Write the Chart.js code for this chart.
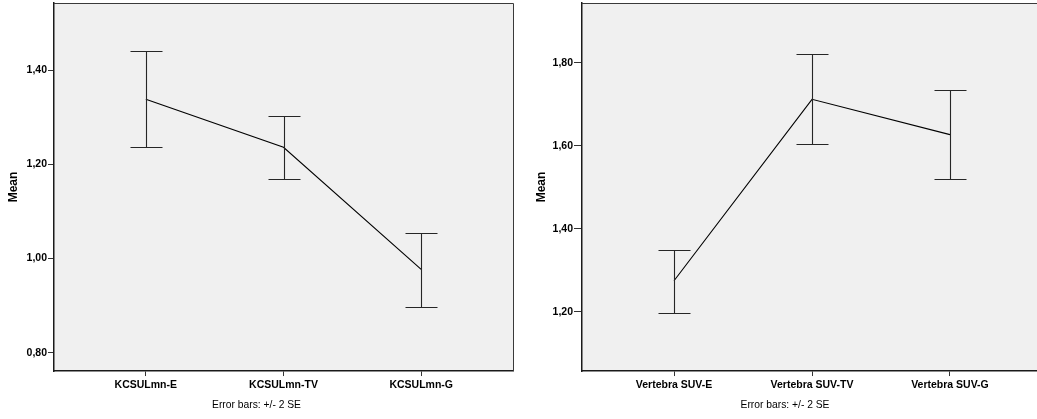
<!DOCTYPE html>
<html>
<head>
<meta charset="utf-8">
<script src="https://cdn.jsdelivr.net/npm/chart.js@4/dist/chart.umd.min.js"></script>
<style>
  html, body { margin: 0; padding: 0; background: #fff; overflow: hidden; }
  #wrap { position: relative; width: 1037px; height: 419px; overflow: hidden; }
  canvas { position: absolute; top: 0; }
  #left { left: 0; }
  #right { left: 520px; }
</style>
</head>
<body>
<div id="wrap">
  <canvas id="left" width="520" height="419"></canvas>
  <canvas id="right" width="530" height="419"></canvas>
</div>
<script>
// KCSULmn: group means with +/- 2 SE limits
const kcsCategories = ['KCSULmn-E', 'KCSULmn-TV', 'KCSULmn-G'];
const kcsMeans = [1.338, 1.236, 0.977];
const kcsLower = [1.236, 1.169, 0.898];
const kcsUpper = [1.441, 1.302, 1.054];
const kcsTicks = [0.80, 1.00, 1.20, 1.40];

// Vertebra SUV: group means with +/- 2 SE limits
const vertCategories = ['Vertebra SUV-E', 'Vertebra SUV-TV', 'Vertebra SUV-G'];
const vertMeans = [1.275, 1.712, 1.627];
const vertLower = [1.197, 1.604, 1.519];
const vertUpper = [1.350, 1.821, 1.735];
const vertTicks = [1.20, 1.40, 1.60, 1.80];

const footnote = 'Error bars: +/- 2 SE';

Chart.defaults.font.family = "'Liberation Sans', Arial, Helvetica, sans-serif";
Chart.defaults.color = '#000';

// Plot background, frame and error bars (positions come from the chart's scales)
const spssFrame = {
  id: 'spssFrame',
  beforeDraw(chart) {
    const a = chart.chartArea, ctx = chart.ctx;
    ctx.save();
    ctx.fillStyle = '#f0f0f0';
    ctx.fillRect(a.left, a.top, a.right - a.left, a.bottom - a.top);
    ctx.restore();
  },
  afterDatasetsDraw(chart) {
    const ctx = chart.ctx;
    const xs = chart.scales.x, ys = chart.scales.y;
    const ds = chart.data.datasets[0];
    const lo = ds.lower, hi = ds.upper;
    ctx.save();
    ctx.strokeStyle = '#262626';
    ctx.lineWidth = 1.1;
    for (let i = 0; i < lo.length; i++) {
      const x = Math.round(xs.getPixelForValue(i)) + 0.5;
      const yl = Math.round(ys.getPixelForValue(lo[i])) + 0.5;
      const yh = Math.round(ys.getPixelForValue(hi[i])) + 0.5;
      ctx.beginPath();
      ctx.moveTo(x, yh); ctx.lineTo(x, yl);
      ctx.moveTo(x - 16, yh); ctx.lineTo(x + 16, yh);
      ctx.moveTo(x - 16, yl); ctx.lineTo(x + 16, yl);
      ctx.stroke();
    }
    ctx.restore();
  },
  afterDraw(chart) {
    const a = chart.chartArea, ctx = chart.ctx;
    ctx.save();
    ctx.strokeStyle = '#3a3a3a';
    ctx.lineWidth = 1;
    ctx.beginPath();
    ctx.moveTo(Math.round(a.left), Math.round(a.top) + 0.5);
    ctx.lineTo(Math.round(a.right) + 0.5, Math.round(a.top) + 0.5);
    ctx.lineTo(Math.round(a.right) + 0.5, Math.round(a.bottom));
    ctx.stroke();
    ctx.restore();
  }
};

function fmt(v) { return v.toFixed(2).replace('.', ','); }

function makeChart(id, cfg) {
  const pts = cfg.means.map((m, i) => ({ x: i, y: m }));
  return new Chart(document.getElementById(id), {
    type: 'line',
    data: {
      datasets: [{
        data: pts,
        lower: cfg.lower,
        upper: cfg.upper,
        borderColor: '#000',
        borderWidth: 1.1,
        pointRadius: 0,
        tension: 0,
        fill: false
      }]
    },
    options: {
      responsive: false,
      animation: false,
      devicePixelRatio: 1,
      layout: { padding: cfg.padding },
      plugins: {
        legend: { display: false },
        tooltip: { enabled: false },
        title: {
          display: true,
          position: 'bottom',
          text: footnote,
          color: '#000',
          font: { size: 10.3, weight: 'normal' },
          padding: { top: 0, bottom: 8 }
        }
      },
      scales: {
        x: {
          type: 'linear',
          min: -0.667,
          max: 2.667,
          grid: { display: true, drawOnChartArea: false, drawTicks: true, tickLength: 5, color: '#333' },
          border: { display: true, color: '#1a1a1a', width: 1.5 },
          afterBuildTicks(s) { s.ticks = cfg.categories.map((c, i) => ({ value: i })); },
          afterFit(s) { s.height = 27.6; s.paddingLeft = 0; s.paddingRight = 0; },
          ticks: {
            padding: 3,
            maxRotation: 0,
            autoSkip: false,
            font: { size: 10.5, weight: 'bold' },
            color: '#000',
            callback: (v) => cfg.categories[v]
          }
        },
        y: {
          type: 'linear',
          min: cfg.yMin,
          max: cfg.yMax,
          grid: { display: true, drawOnChartArea: false, drawTicks: true, tickLength: cfg.tickLen, color: '#333' },
          border: { display: true, color: '#1a1a1a', width: 1.5 },
          afterBuildTicks(s) { s.ticks = cfg.ticks.map(v => ({ value: v })); },
          afterFit(s) { s.width = cfg.axisWidth; s.paddingTop = 0; s.paddingBottom = 0; },
          title: {
            display: true,
            text: 'Mean',
            color: '#000',
            font: { size: 12, weight: 'bold' },
            padding: { top: 6.8, bottom: 0 }
          },
          ticks: {
            padding: 1,
            font: { size: 10.5, weight: 'bold' },
            color: '#000',
            callback: (v) => fmt(v)
          }
        }
      }
    },
    plugins: [spssFrame]
  });
}

makeChart('left', {
  categories: kcsCategories, means: kcsMeans, lower: kcsLower, upper: kcsUpper,
  ticks: kcsTicks, yMin: 0.761, yMax: 1.5423,
  padding: { left: 0, right: 7, top: 3, bottom: 0 },
  axisWidth: 54, tickLen: 6
});

makeChart('right', {
  categories: vertCategories, means: vertMeans, lower: vertLower, upper: vertUpper,
  ticks: vertTicks, yMin: 1.0575, yMax: 1.944,
  padding: { left: 8, right: 8, top: 3, bottom: 0 },
  axisWidth: 54, tickLen: 8
});
</script>
</body>
</html>
